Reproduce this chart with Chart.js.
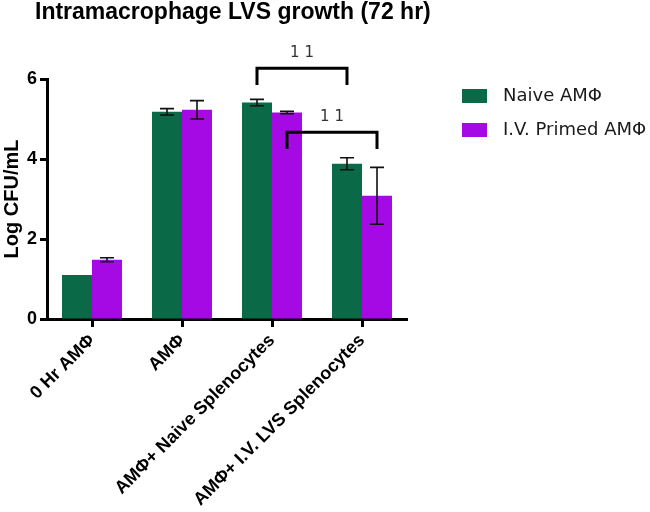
<!DOCTYPE html>
<html>
<head>
<meta charset="utf-8">
<script src="https://cdn.jsdelivr.net/npm/chart.js@4/dist/chart.umd.min.js"></script>
<style>
html,body{margin:0;padding:0;background:#fff;}
#wrap{width:650px;height:512px;position:relative;}
</style>
</head>
<body>
<div id="wrap"><canvas id="c" width="650" height="512"></canvas></div>
<script>
const categories = ['0 Hr AMΦ', 'AMΦ', 'AMΦ+ Naive Splenocytes', 'AMΦ+ I.V. LVS Splenocytes'];
const naiveValues = [1.10, 5.18, 5.41, 3.88];
const naiveErrors = [0, 0.08, 0.08, 0.15];
const primedValues = [1.48, 5.23, 5.16, 3.08];
const primedErrors = [0.05, 0.23, 0.03, 0.71];
const seriesNames = ['Naive AMΦ', 'I.V. Primed AMΦ'];
const yTicks = [0, 2, 4, 6];
// significance brackets: [datasetIndex, categoryIndex] endpoints, bracket top value, leg end value, label value
const brackets = [
  {a: [0, 2], b: [0, 3], top: 6.27, leg: 5.85, labelAt: 6.64, text: '1 1'},
  {a: [1, 2], b: [1, 3], top: 4.67, leg: 4.25, labelAt: 5.04, text: '1 1'}
];
const titleText = 'Intramacrophage LVS growth (72 hr)';
const yTitle = 'Log CFU/mL';

const GREEN = '#0a6a47';
const PURPLE = '#a60ae4';

const errorBarPlugin = {
  id: 'errorBars',
  afterDatasetsDraw(chart) {
    const ctx = chart.ctx, y = chart.scales.y;
    const errs = [naiveErrors, primedErrors];
    ctx.save();
    ctx.strokeStyle = '#111';
    ctx.lineWidth = 1.6;
    chart.data.datasets.forEach((ds, di) => {
      const meta = chart.getDatasetMeta(di);
      meta.data.forEach((bar, i) => {
        const e = errs[di][i];
        if (!e) return;
        const v = ds.data[i];
        const yt = y.getPixelForValue(v + e), yb = y.getPixelForValue(v - e);
        const x = bar.x;
        ctx.beginPath();
        ctx.moveTo(x, yt); ctx.lineTo(x, yb);
        ctx.moveTo(x - 7, yt); ctx.lineTo(x + 7, yt);
        ctx.moveTo(x - 7, yb); ctx.lineTo(x + 7, yb);
        ctx.stroke();
      });
    });
    ctx.restore();
  }
};

const decorPlugin = {
  id: 'decor',
  afterDraw(chart) {
    const ctx = chart.ctx, y = chart.scales.y;
    ctx.save();
    // title
    ctx.fillStyle = '#000';
    ctx.font = 'bold 23px "Liberation Sans", Arial, sans-serif';
    ctx.textAlign = 'left';
    ctx.textBaseline = 'alphabetic';
    ctx.fillText(titleText, 35, 19);
    // brackets
    ctx.strokeStyle = '#000';
    ctx.lineWidth = 3;
    ctx.lineCap = 'butt';
    brackets.forEach(b => {
      const xa = chart.getDatasetMeta(b.a[0]).data[b.a[1]].x;
      const xb = chart.getDatasetMeta(b.b[0]).data[b.b[1]].x;
      const yt = y.getPixelForValue(b.top), yl = y.getPixelForValue(b.leg);
      ctx.beginPath();
      ctx.moveTo(xa, yl); ctx.lineTo(xa, yt); ctx.lineTo(xb, yt); ctx.lineTo(xb, yl);
      ctx.stroke();
      ctx.fillStyle = '#333';
      ctx.font = '15px "DejaVu Sans", sans-serif';
      ctx.textAlign = 'center';
      ctx.textBaseline = 'middle';
      ctx.fillText(b.text, (xa + xb) / 2, y.getPixelForValue(b.labelAt));
    });
    // legend
    const colors = [GREEN, PURPLE];
    ctx.font = '18px "DejaVu Sans", sans-serif';
    ctx.textAlign = 'left';
    ctx.textBaseline = 'middle';
    seriesNames.forEach((n, i) => {
      const top = 89 + i * 34;
      ctx.fillStyle = colors[i];
      ctx.fillRect(462, top, 25, 14);
      ctx.fillStyle = '#1a1a1a';
      ctx.fillText(n, 503, top + 7);
    });
    ctx.restore();
  }
};

new Chart(document.getElementById('c'), {
  type: 'bar',
  data: {
    labels: categories,
    datasets: [
      {label: seriesNames[0], data: naiveValues, backgroundColor: GREEN, borderWidth: 0, categoryPercentage: 0.667, barPercentage: 1.0},
      {label: seriesNames[1], data: primedValues, backgroundColor: PURPLE, borderWidth: 0, categoryPercentage: 0.667, barPercentage: 1.0}
    ]
  },
  options: {
    responsive: false,
    animation: false,
    devicePixelRatio: 1,
    layout: {padding: {top: 79, right: 243, bottom: 0, left: 0}},
    plugins: {legend: {display: false}, title: {display: false}, tooltip: {enabled: false}},
    scales: {
      x: {
        type: 'category',
        offset: true,
        grid: {display: true, drawOnChartArea: false, offset: false, drawTicks: true, tickLength: 8, tickWidth: 3, tickColor: '#000'},
        border: {display: true, color: '#000', width: 3},
        ticks: {color: '#000', font: {family: '"Liberation Sans", Arial, sans-serif', size: 18, weight: 'bold'}, minRotation: 45, maxRotation: 45, padding: 3, autoSkip: false},
        afterFit(scale) { scale.height = 193; }
      },
      y: {
        min: 0, max: 6,
        afterBuildTicks(scale) { scale.ticks = yTicks.map(v => ({value: v})); },
        grid: {display: true, drawOnChartArea: false, drawTicks: true, tickLength: 7, tickWidth: 3, tickColor: '#000'},
        border: {display: true, color: '#000', width: 3},
        ticks: {color: '#000', font: {family: '"Liberation Sans", Arial, sans-serif', size: 18, weight: 'bold'}, padding: 3},
        title: {display: true, text: yTitle, color: '#000', font: {family: '"Liberation Sans", Arial, sans-serif', size: 20, weight: 'bold'}, padding: {top: 0, bottom: 0}},
        afterFit(scale) { scale.width = 47; }
      }
    }
  },
  plugins: [errorBarPlugin, decorPlugin]
});
</script>
</body>
</html>
